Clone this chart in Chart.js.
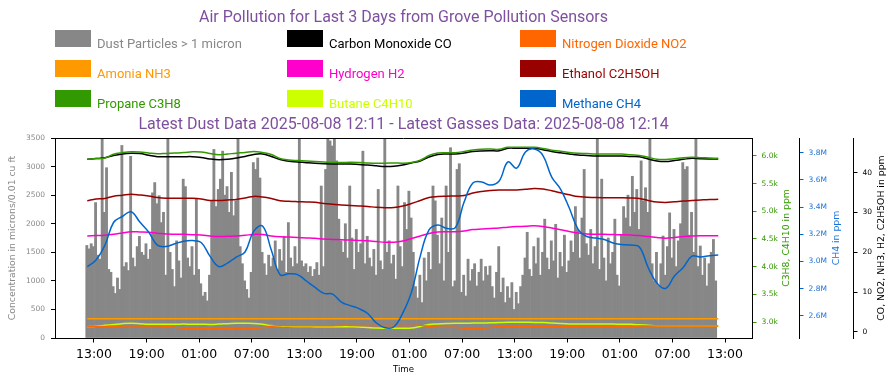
<!DOCTYPE html>
<html><head><meta charset="utf-8">
<script src="https://cdn.jsdelivr.net/npm/chart.js@4.4.0/dist/chart.umd.min.js"></script>
<style>html,body{margin:0;padding:0;background:#fff;}</style>
</head><body>
<canvas id="c" width="896" height="385" style="width:896px;height:385px;display:block"></canvas>
<script>
// ---------- texts ----------
const titleText = "Air Pollution for Last 3 Days from Grove Pollution Sensors";
const subtitleText = "Latest Dust Data 2025-08-08 12:11 - Latest Gasses Data: 2025-08-08 12:14";
const xTitle = "Time";
const dustTitle = "Concentration in microns/0.01 cu ft";
const hcTitle = "C3H8, C4H10 in ppm";
const ch4Title = "CH4 in ppm";
const gasTitle = "CO, NO2, NH3, H2, C2H5OH in ppm";

// ---------- tick values ----------
const timeTicks = [13, 19, 25, 31, 37, 43, 49, 55, 61, 67, 73, 79, 85]; // hours since 2025-08-05 00:00
const dustTicks = [0, 500, 1000, 1500, 2000, 2500, 3000, 3500];
const hcTicks = [3000, 3500, 4000, 4500, 5000, 5500, 6000];
const ch4Ticks = [2600000, 2800000, 3000000, 3200000, 3400000, 3600000, 3800000];
const gasTicks = [0, 10, 20, 30, 40];

// ---------- time sampling (hours since 2025-08-05 00:00) ----------
const dustStartHour = 12.18, dustStepHours = 0.25;
const gasStartHour = 12.23, gasStepHours = 1;

// ---------- series ----------
const dustValues = [
1620,1560,1650,1600,2370,1450,1380,3600,2200,2980,
1200,1150,900,780,1050,850,3370,1250,1320,1180,
3180,1400,1250,1600,1780,1500,1450,1650,1380,1550,
2540,2720,2350,2490,2020,2200,1100,3600,1500,1200,
900,1700,1350,1050,2780,2650,1400,1250,1600,1100,
2430,1200,950,735,800,650,1100,2400,3300,2300,
2600,2780,3270,2500,2650,2200,2900,2140,2400,3600,
1600,1300,1000,850,700,1150,3070,2950,3150,2800,
1500,1300,1100,1450,1250,1400,1700,1200,1550,1350,
1780,1150,2020,1400,1250,1600,1300,3600,1350,1250,
1300,1150,1250,1080,1200,1320,1100,2660,1250,2950,
3480,3450,3360,3600,3100,2080,1700,1500,2000,1400,
2660,1750,1200,1900,1500,1650,3270,1300,1780,1400,
1250,1550,1100,2600,1350,1200,3600,1500,1700,1300,
1450,1030,2660,1600,1250,2370,1900,2570,2100,1500,
900,700,1100,620,1400,1000,1500,1200,2660,2400,
1800,1300,2100,1000,2660,1500,3330,900,1000,2950,
3050,800,1100,735,1380,1000,1200,1300,910,1150,
1380,1000,1250,1100,1260,900,700,1150,1600,800,
1050,620,900,700,970,500,800,600,900,1100,
1400,1850,1200,1080,1600,1300,1750,1100,1500,2080,
1400,1200,1700,1350,1990,1050,1500,1250,1800,1150,
1350,1700,1500,2300,1900,1400,2100,2950,1650,1450,
1900,1300,1600,3600,1200,2780,1400,1000,1750,1300,
1500,2080,1100,910,1800,2300,2100,2500,1950,2830,
2200,2600,1900,3100,2400,2630,2200,3600,1300,1000,
1500,910,1300,1785,1100,1600,2190,1400,1900,1250,
1700,2000,3070,2950,3000,1800,2200,1500,3600,1250,
1610,1100,1400,910,1300,1500,1725,1000];

const coValues = [43.36,43.54,43.74,44.32,44.70,44.87,44.80,44.39,44.02,44.02,
44.02,44.02,44.02,43.82,43.44,43.24,43.36,43.69,44.07,44.57,
44.70,44.07,43.31,42.86,42.71,42.51,42.34,42.23,42.18,42.18,
42.18,42.06,41.93,41.73,41.53,41.61,41.93,42.44,42.94,43.94,
44.57,44.70,44.70,44.95,45.32,45.47,45.52,45.52,46.13,46.13,
46.13,46.13,45.78,45.32,45.00,44.70,44.44,44.32,44.19,44.19,
44.19,44.19,44.07,43.99,43.44,42.94,42.81,43.06,43.36,43.62,
43.49,43.44,43.44];

const no2Values = [1.34,1.36,1.40,1.45,1.50,1.51,1.51,1.50,1.48,1.40,
1.20,0.95,0.93,0.93,0.93,0.93,0.93,0.93,0.93,0.93,
1.10,1.45,1.59,1.59,1.59,1.59,1.59,1.59,1.59,1.66,
1.66,1.66,1.66,1.66,1.66,1.66,1.66,1.66,1.66,1.40,
1.18,1.18,1.18,0.95,0.95,0.95,1.15,1.34,1.34,1.34,
1.34,1.34,1.34,1.34,1.34,1.34,1.34,1.34,1.34,1.34,
1.34,1.34,1.34,1.50,1.50,1.50,1.50,1.50,1.50,1.50,
1.50,1.50,1.50];

const nh3Values = [3.34,3.34,3.34,3.34,3.34,3.34,3.34,3.34,3.34,3.34,
3.34,3.34,3.34,3.34,3.34,3.34,3.34,3.34,3.34,3.34,
3.34,3.34,3.34,3.34,3.34,3.34,3.34,3.34,3.34,3.34,
3.34,3.34,3.34,3.34,3.34,3.34,3.34,3.34,3.34,3.34,
3.34,3.34,3.34,3.34,3.34,3.34,3.34,3.34,3.34,3.34,
3.34,3.34,3.34,3.34,3.34,3.34,3.34,3.34,3.34,3.34,
3.34,3.34,3.34,3.34,3.34,3.34,3.34,3.34,3.34,3.34,
3.34,3.34,3.34];

const h2Values = [24.11,24.21,24.31,24.53,24.86,25.16,25.11,25.03,24.81,24.61,
24.56,24.53,24.43,24.36,24.11,23.95,24.03,24.11,24.28,24.51,
24.46,24.11,23.90,23.83,23.73,23.63,23.53,23.35,23.25,23.15,
23.08,23.00,22.90,22.70,22.52,22.55,22.85,23.48,24.11,24.73,
25.08,25.16,25.18,25.36,25.71,25.86,25.99,26.11,26.32,26.47,
26.54,26.67,26.49,26.11,25.69,25.24,24.86,24.61,24.56,24.53,
24.48,24.41,24.33,24.21,23.95,23.73,23.55,23.73,23.95,24.11,
24.18,24.18,24.18];

const ethanolValues = [32.97,33.40,33.52,34.10,34.35,34.58,34.40,34.15,33.77,33.57,
33.57,33.57,33.57,33.40,33.02,33.02,33.14,33.27,33.65,34.05,
33.90,33.52,32.97,32.82,32.72,32.64,32.57,32.27,32.07,31.89,
31.79,31.66,31.51,31.31,31.21,31.26,31.64,32.27,33.02,33.77,
34.02,34.10,34.15,34.27,34.90,35.28,35.51,35.63,35.66,35.66,
35.83,36.03,35.91,35.46,34.95,34.45,34.00,33.85,33.75,33.72,
33.72,33.72,33.65,33.52,33.04,32.64,32.52,32.69,32.89,33.02,
33.14,33.25,33.32];

const propaneValues = [5940,5953,5964,6033,6060,6076,6072,6054,6040,6047,
6054,6061,6076,6072,6045,6022,6036,6051,6063,6081,
6063,6027,5955,5928,5917,5908,5901,5892,5883,5883,
5886,5883,5875,5870,5870,5874,5870,5883,5924,6009,
6054,6060,6060,6081,6108,6123,6125,6121,6157,6157,
6157,6157,6136,6105,6087,6063,6049,6043,6036,6036,
6036,6036,6022,6009,5978,5940,5937,5949,5967,5975,
5969,5964,5958];

const butaneValues = [2915,2925,2940,2955,2970,2977,2970,2960,2958,2961,
2959,2962,2958,2960,2957,2962,2970,2977,2977,2975,
2960,2935,2926,2922,2920,2918,2916,2916,2915,2915,
2913,2910,2900,2890,2887,2887,2887,2890,2920,2955,
2965,2972,2977,2977,2980,2982,2985,2990,2995,2995,
2995,2993,2990,2980,2972,2966,2964,2964,2963,2962,
2962,2960,2958,2950,2940,2930,2928,2928,2928,2928,
2928,2928,2928];

const methaneValues = [2962000,3011000,3118000,3287000,3331000,3366000,3290000,3217000,3121000,3110000,
3131000,3149000,3154000,3140000,3040000,2963000,2989000,3033000,3070000,3224000,
3261000,3085000,2903000,2910000,2904000,2857000,2810000,2766000,2761000,2702000,
2676000,2654000,2618000,2548000,2513000,2521000,2621000,2776000,3040000,3232000,
3268000,3244000,3249000,3437000,3577000,3585000,3562000,3592000,3732000,3687000,
3805000,3827000,3779000,3621000,3533000,3393000,3239000,3184000,3173000,3162000,
3136000,3126000,3121000,3107000,2956000,2842000,2803000,2893000,2957000,3040000,
3033000,3043000,3048000];

// ---------- build point lists ----------
const dustPts = dustValues.map((v, i) => ({x: dustStartHour + i * dustStepHours, y: v}));
const gasPts = arr => arr.map((v, i) => ({x: gasStartHour + i * gasStepHours, y: v}));

const legendTextColors = ['#888888', '#000000', '#ff6600', '#ff9900', '#ff00cc', '#990000', '#339900', '#ccff00', '#0066cc'];

function lineDs(label, arr, color, axis, order) {
  return {type: 'line', label, data: gasPts(arr), borderColor: color, backgroundColor: color,
    yAxisID: axis, pointRadius: 0, borderWidth: 1.5, tension: 0.4, fill: false, order};
}

const datasets = [
  {type: 'bar', label: 'Dust Particles > 1 micron', data: dustPts, backgroundColor: '#878787', borderWidth: 0,
   yAxisID: 'y', barPercentage: 1.0, categoryPercentage: 1.0, order: 100},
  lineDs('Carbon Monoxide CO', coValues, '#000000', 'yGas', 3),
  lineDs('Nitrogen Dioxide NO2', no2Values, '#ff6600', 'yGas', 6),
  lineDs('Amonia NH3', nh3Values, '#ff9900', 'yGas', 7),
  lineDs('Hydrogen H2', h2Values, '#ff00cc', 'yGas', 5),
  lineDs('Ethanol C2H5OH', ethanolValues, '#990000', 'yGas', 4),
  lineDs('Propane C3H8', propaneValues, '#339900', 'yHC', 2),
  lineDs('Butane C4H10', butaneValues, '#ccff00', 'yHC', 8),
  lineDs('Methane CH4', methaneValues, '#0066cc', 'yCH4', 1)
];

const TICKFONT = {family: 'DejaVu Sans', size: 7.5};
function fixedTicks(arr) { return s => { s.ticks = arr.map(v => ({value: v})); }; }

const headerPlugin = {
  id: 'header',
  afterDraw(chart) {
    const ctx = chart.ctx, ca = chart.chartArea;
    const cx = (ca.left + ca.right) / 2;
    ctx.save();
    ctx.fillStyle = '#7f4f9f';
    ctx.font = '16px Roboto';
    ctx.textAlign = 'center';
    ctx.textBaseline = 'middle';
    ctx.fillText(titleText, cx, 18);
    ctx.fillText(subtitleText, cx, 125);
    // legend (3 columns x 3 rows)
    const colX = [55, 287, 520], rowY = [30, 60, 90];
    chart.data.datasets.forEach((ds, i) => {
      const x = colX[i % 3], y = rowY[Math.floor(i / 3)];
      ctx.fillStyle = ds.backgroundColor;
      ctx.fillRect(x, y, 36, 17);
      ctx.fillStyle = legendTextColors[i];
      ctx.font = '13px Roboto';
      ctx.textAlign = 'left';
      ctx.textBaseline = 'alphabetic';
      ctx.fillText(ds.label, x + 42, y + 18);
    });
    // axis titles
    const midY = (ca.top + ca.bottom) / 2;
    const vt = (t, x, color) => {
      ctx.save(); ctx.translate(x, midY); ctx.rotate(-Math.PI / 2);
      ctx.fillStyle = color; ctx.font = '9.3px "DejaVu Sans"';
      ctx.textAlign = 'center'; ctx.textBaseline = 'middle';
      ctx.fillText(t, 0, 0); ctx.restore();
    };
    vt(dustTitle, chart.scales.y.left + 12.5, '#888888');
    vt(hcTitle, chart.scales.yHC.left + 35, '#339900');
    vt(ch4Title, chart.scales.yCH4.left + 38, '#1a73d9');
    vt(gasTitle, chart.scales.yGas.left + 29, '#000000');
    ctx.fillStyle = '#000';
    ctx.font = '8.6px "DejaVu Sans"';
    ctx.textAlign = 'center'; ctx.textBaseline = 'middle';
    ctx.fillText(xTitle, cx, 370);
    ctx.restore();
  },
  afterDatasetsDraw(chart) {
    const ctx = chart.ctx, ca = chart.chartArea;
    ctx.save();
    ctx.strokeStyle = '#000'; ctx.lineWidth = 1;
    ctx.beginPath(); ctx.moveTo(ca.left, Math.round(ca.top) + 0.5); ctx.lineTo(ca.right, Math.round(ca.top) + 0.5); ctx.stroke();
    ctx.restore();
  }
};

new Chart(document.getElementById('c'), {
  type: 'bar',
  data: {datasets},
  plugins: [headerPlugin],
  options: {
    responsive: false, maintainAspectRatio: false, animation: false,
    layout: {padding: {top: 138, left: 0, right: 0, bottom: 0}},
    plugins: {legend: {display: false}, tooltip: {enabled: false}, title: {display: false}},
    scales: {
      x: {type: 'linear', position: 'bottom', min: 8.55, max: 88.08, offset: false,
        afterBuildTicks: fixedTicks(timeTicks),
        afterFit: s => { s.height = 47; },
        ticks: {autoSkip: false, maxRotation: 0, minRotation: 0, color: '#000', padding: 5,
          font: {family: 'DejaVu Sans', size: 12.5},
          callback: v => String(Math.round(v) % 24).padStart(2, '0') + ':00'},
        grid: {display: true, offset: false, drawOnChartArea: false, drawTicks: true, tickLength: 4.5, tickColor: '#000', tickWidth: 1},
        border: {display: true, color: '#000', width: 1}},
      y: {type: 'linear', position: 'left', min: 0, max: 3500,
        afterBuildTicks: fixedTicks(dustTicks),
        afterFit: s => { s.width = 55; },
        ticks: {color: '#888888', font: TICKFONT, padding: 6, callback: v => String(v)},
        grid: {display: true, offset: false, drawOnChartArea: false, drawTicks: true, tickLength: 4, tickColor: '#000'},
        border: {display: true, color: '#000', width: 1}},
      yHC: {type: 'linear', position: 'right', min: 2711, max: 6325,
        afterBuildTicks: fixedTicks(hcTicks),
        afterFit: s => { s.width = 47; },
        ticks: {color: '#339900', font: TICKFONT, padding: 5, callback: v => (v / 1000).toFixed(1) + 'k'},
        grid: {display: true, offset: false, drawOnChartArea: false, drawTicks: true, tickLength: 4.5, tickColor: '#339900'},
        border: {display: true, color: '#000', width: 1}},
      yCH4: {type: 'linear', position: 'right', min: 2438000, max: 3908000,
        afterBuildTicks: fixedTicks(ch4Ticks),
        afterFit: s => { s.width = 54; },
        ticks: {color: '#1a73d9', font: TICKFONT, padding: 5, callback: v => (v / 1e6).toFixed(1) + 'M'},
        grid: {display: true, offset: false, drawOnChartArea: false, drawTicks: true, tickLength: 4.5, tickColor: '#0066cc'},
        border: {display: true, color: '#000', width: 1}},
      yGas: {type: 'linear', position: 'right', min: -1.51, max: 48.71,
        afterBuildTicks: fixedTicks(gasTicks),
        afterFit: s => { s.width = 43; },
        ticks: {color: '#000', font: TICKFONT, padding: 5, callback: v => String(v)},
        grid: {display: true, offset: false, drawOnChartArea: false, drawTicks: true, tickLength: 4.5, tickColor: '#000'},
        border: {display: true, color: '#000', width: 1}}
    }
  }
});
</script>
</body></html>
